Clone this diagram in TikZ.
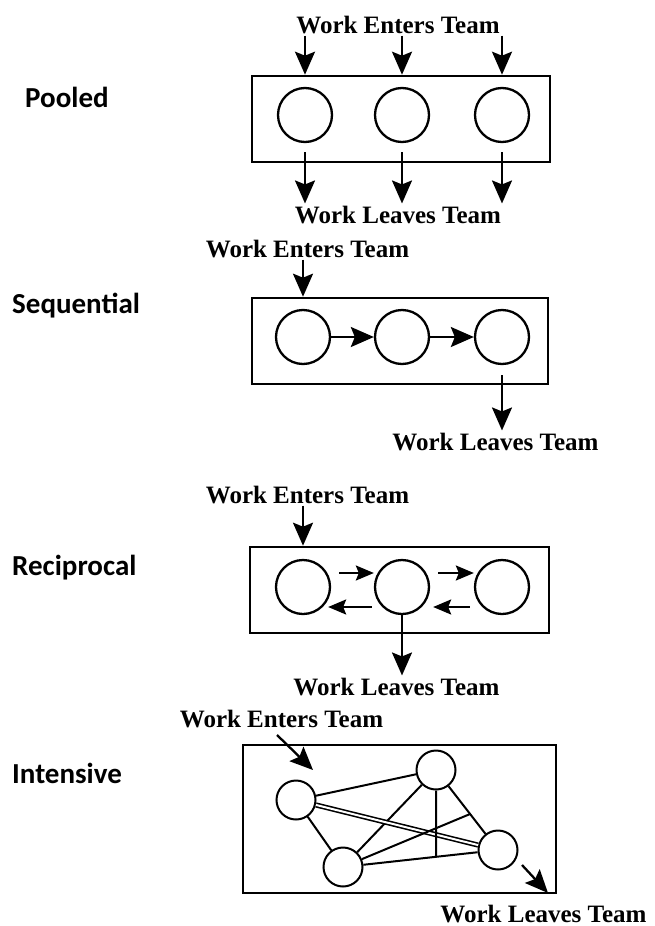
\documentclass[tikz,border=0pt]{standalone}
\usepackage{fontspec}
\setmainfont{Liberation Serif}
\newfontfamily\labelfont{Carlito}
\usetikzlibrary{arrows.meta, positioning, calc}
\tikzstyle{flow} = [line width=2.3pt, -{Stealth[length=23pt, width=20pt, inset=4pt]}]

\begin{document}
\begin{tikzpicture}[x=1pt, y=-1pt,
    member/.style={circle, draw, line width=2.3pt, minimum size=54pt, inner sep=0pt},
    small/.style={circle, draw, line width=2pt, minimum size=39pt, inner sep=0pt},
    team/.style={draw, line width=2.6pt, inner sep=0pt},
    kind/.style={anchor=base west, inner sep=0pt, font=\labelfont\bfseries\fontsize{29}{31}\selectfont},
    work/.style={anchor=base, inner sep=2pt, font=\bfseries\fontsize{25}{27}\selectfont},
    swap/.style={line width=2.2pt, -{Stealth[length=18pt, width=15pt, inset=3pt]}},
    link/.style={line width=2pt},
]
\useasboundingbox (0,0) rectangle (655,926);

% Pooled (top)
\node[kind] (pooled) at (25,107) {Pooled};
\node[work] (pin) at (398,33) {Work Enters Team};
\node[team, minimum width=298pt, minimum height=86pt] (pbox) at (401,119) {};
\foreach \i/\x in {1/305, 2/402, 3/502} {
    \node[member] (pm\i) at (\x,115) {};
}
\node[work] (pout) at (398,223) {Work Leaves Team};

% Arrows - every member takes and gives work
\foreach \i in {1,2,3} {
    \draw[flow] (pm\i |- pin.south) -- (pm\i |- pbox.north);
    \draw[flow, shorten <=9pt] (pm\i.south) -- (pm\i |- pout.north);
}

% Sequential
\node[kind] (sequential) at (12,313) {Sequential};
\node[work] (sin) at (307.5,257) {Work Enters Team};
\node[team, minimum width=296pt, minimum height=86pt] (sbox) at (400,341) {};
\foreach \i/\x in {1/303, 2/402, 3/502} {
    \node[member] (sm\i) at (\x,337) {};
}
\node[work] (sout) at (495.5,450) {Work Leaves Team};

\draw[flow] (sm1 |- sin.south) -- (sm1 |- sbox.north);
\draw[flow] (sm1) -- (sm2);
\draw[flow] (sm2) -- (sm3);
\draw[flow, shorten <=10pt] (sm3.south) -- (sm3 |- sout.north);

% Reciprocal
\node[kind] (reciprocal) at (12,575) {Reciprocal};
\node[work] (rin) at (307.5,503) {Work Enters Team};
\node[team, minimum width=299pt, minimum height=86pt] (rbox) at (399.5,590) {};
\foreach \i/\x in {1/303, 2/402, 3/502} {
    \node[member] (rm\i) at (\x,587) {};
}
\node[work] (rout) at (396.5,695) {Work Leaves Team};

\draw[flow] (rm1 |- rin.south) -- (rm1 |- rbox.north);
% forth on top, back underneath
\draw[swap] ([xshift=8pt, yshift=14pt]rm1.east) -- ([yshift=14pt]rm2.west);
\draw[swap] ([xshift=8pt, yshift=14pt]rm2.east) -- ([yshift=14pt]rm3.west);
\draw[swap] ([xshift=-2pt, yshift=-20pt]rm2.west) -- ([xshift=-3pt, yshift=-20pt]rm1.east);
\draw[swap] ([xshift=-4pt, yshift=-20pt]rm3.west) -- ([xshift=3pt, yshift=-20pt]rm2.east);
\draw[flow] (rm2.south) -- (rm2 |- rout.north);

% Intensive (bottom)
\node[kind] (intensive) at (12,783) {Intensive};
\node[work] (iin) at (281.5,727) {Work Enters Team};
\node[team, minimum width=313pt, minimum height=148pt] (ibox) at (399.5,819) {};
\node[small] (ia) at (296,800) {};
\node[small] (ib) at (436,770) {};
\node[small] (ic) at (343,867) {};
\node[small] (id) at (498,850) {};
\node[work] (iout) at (543.5,922) {Work Leaves Team};

% Links - everyone talks to everyone
\draw[link] (ia) -- (ib);
\draw[link] (ia) -- (ic);
\draw[link] (ib) -- (ic);
\draw[link] (ib) -- (id);
\draw[link] (ic) -- (id);
\draw[line width=1.6pt, double, double distance=2pt] (ia) -- (id);
\draw[link] (ib) -- ($(ic)!0.6!(id)$);
\draw[link] (ic) -- ($(ib)!0.55!(id)$);

\coordinate (ienter) at (277,735);
\coordinate (itake) at (313,770);
\coordinate (igive) at (522,865);
\coordinate (ileave) at (548,893);
\draw[flow] (ienter) -- (itake);
\draw[flow] (igive) -- (ileave);

\end{tikzpicture}
\end{document}
